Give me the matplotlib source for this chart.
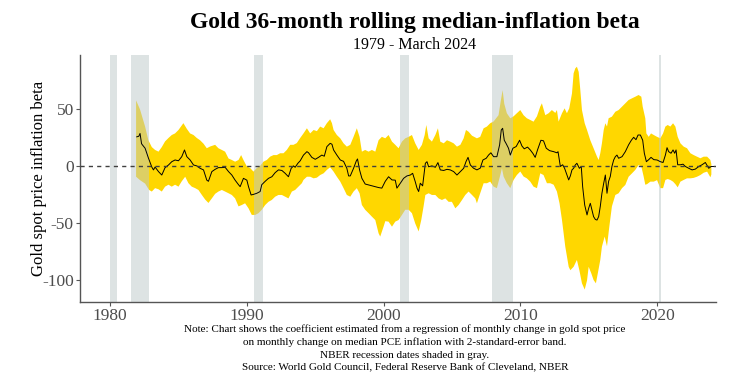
import matplotlib
matplotlib.use("Agg")
import matplotlib.pyplot as plt
import numpy as np

# rolling beta (year, value)
med_years = [1981.95, 1982.10, 1982.19, 1982.30, 1982.36, 1982.56, 1982.80, 1983.05, 1983.17, 1983.29,
             1983.54, 1983.78, 1984.02, 1984.27, 1984.51, 1984.75, 1985.00, 1985.24, 1985.44, 1985.61,
             1985.85, 1986.10, 1986.34, 1986.58, 1986.83, 1987.07, 1987.19, 1987.44, 1987.68, 1987.92,
             1988.17, 1988.41, 1988.66, 1988.90, 1989.14, 1989.39, 1989.51, 1989.75, 1990.00, 1990.12,
             1990.31, 1990.48, 1990.73, 1990.97, 1991.09, 1991.34, 1991.58, 1991.83, 1992.07, 1992.31,
             1992.56, 1992.80, 1993.04, 1993.24, 1993.41, 1993.53, 1993.73, 1993.90, 1994.14, 1994.39,
             1994.51, 1994.75, 1995.00, 1995.24, 1995.48, 1995.66, 1995.85, 1996.09, 1996.22, 1996.34,
             1996.58, 1996.83, 1997.07, 1997.31, 1997.44, 1997.56, 1997.80, 1998.00, 1998.09, 1998.24,
             1998.41, 1998.65, 1998.90, 1999.14, 1999.39, 1999.63, 1999.87, 2000.12, 2000.36, 2000.61,
             2000.85, 2000.97, 2001.22, 2001.46, 2001.70, 2001.95, 2002.12, 2002.31, 2002.44, 2002.56,
             2002.68, 2002.85, 2003.05, 2003.17, 2003.29, 2003.53, 2003.78, 2003.97, 2004.14, 2004.39,
             2004.63, 2004.87, 2005.12, 2005.36, 2005.61, 2005.85, 2006.02, 2006.17, 2006.34, 2006.57,
             2006.82, 2007.06, 2007.26, 2007.50, 2007.67, 2007.84, 2008.04, 2008.28, 2008.48, 2008.60,
             2008.70, 2008.82, 2008.96, 2009.13, 2009.26, 2009.45, 2009.69, 2009.94, 2010.11, 2010.28,
             2010.52, 2010.72, 2010.91, 2011.08, 2011.25, 2011.50, 2011.69, 2011.89, 2012.13, 2012.43,
             2012.67, 2012.75, 2012.92, 2013.09, 2013.23, 2013.40, 2013.53, 2013.65, 2013.77, 2013.89,
             2014.01, 2014.13, 2014.31, 2014.45, 2014.55, 2014.70, 2014.87, 2014.99, 2015.11, 2015.23,
             2015.35, 2015.48, 2015.60, 2015.72, 2015.84, 2015.96, 2016.09, 2016.21, 2016.33, 2016.45,
             2016.57, 2016.69, 2016.82, 2016.94, 2017.06, 2017.18, 2017.43, 2017.67, 2017.91, 2018.11,
             2018.28, 2018.45, 2018.60, 2018.77, 2018.94, 2019.06, 2019.21, 2019.38, 2019.55, 2019.75,
             2019.99, 2020.23, 2020.43, 2020.60, 2020.72, 2020.84, 2021.01, 2021.16, 2021.28, 2021.38,
             2021.50, 2021.70, 2021.89, 2022.06, 2022.31, 2022.55, 2022.79, 2023.04, 2023.28, 2023.52,
             2023.77, 2023.94, 2024.18]
med_vals = [26, 26.5, 29, 20, 19, 16, 7.5, -0.5, -3, -0.5,
            -4.5, -7.5, -1, 1.3, 4.2, 5.7, 5, 8.6, 14.5, 8.6,
            5.7, 1.3, 0.5, -1.6, -3, -12, -13, -4.5, -2.5, -1,
            -1, -0.7, -4.5, -7.5, -12, -16, -17.7, -10.4, -12, -17.7,
            -25, -24.5, -23.5, -22, -16, -13, -10.4, -9, -5.4, -3,
            -3.5, -6, -9, -1.6, 0.5, -0.7, 2.8, 5, 10, 13,
            12, 8, 6.3, 8, 10, 9, 17.4, 20.3, 19.5, 14.5,
            10, 5.7, 4.5, -1.6, -8.3, -8.3, -1.6, 4.8, 6.6, -3,
            -10.4, -15.4, -16.2, -17, -17.7, -18.5, -19, -13, -9, -11.8,
            -12, -19, -14.7, -10.4, -8.3, -7.5, -6, -13.3, -19, -22,
            -14.7, -17, 2.8, 4.2, -0.3, 0.5, -0.7, 3.4, -3, -3.5,
            -2.5, -3, -4.5, -7.5, -4.5, -1.6, 4.2, 8, 1.3, -1.5,
            -3, -1.5, 5.7, 7.2, 10, 12, 8.6, 8.6, 19, 32,
            33.5, 23, 20, 16, 10, 16, 17.5, 23, 18, 15.5,
            17, 14.5, 11.5, 8, 14.5, 23, 22.5, 16, 13.9, 13,
            12, 13, 0, 1.5, -1.6, -7.5, -11.8, -8.3, -3, -1.6,
            1.3, 2.8, -1.6, 0, -17.7, -33.8, -42.5, -36.7, -32.3, -38,
            -44, -46.5, -47, -44, -35, -23.5, -14.7, -7.5, -23.5, -13,
            -8.8, 0, 5.7, 8.6, 10, 7.2, 8.6, 13, 19, 23,
            25.6, 23.5, 27.6, 27.6, 23, 11.6, 4.2, 6, 8, 6,
            5.7, 4.2, 3.5, 10, 16.5, 13, 11.6, 14.5, 11.6, 14.5,
            1.5, 1.5, 2, 0, -1.6, -3, -2.3, 0, 1.5, 3.5,
            -1.6, 0, 0]

# upper edge of the 2-standard-error band
up_years = [1981.90, 1982.19, 1982.56, 1982.80, 1983.05, 1983.29, 1983.54, 1983.78, 1984.02, 1984.27,
            1984.51, 1984.75, 1985.00, 1985.24, 1985.36, 1985.61, 1985.85, 1986.10, 1986.34, 1986.58,
            1986.83, 1987.07, 1987.31, 1987.68, 1987.92, 1988.17, 1988.41, 1988.66, 1988.90, 1989.14,
            1989.39, 1989.58, 1989.75, 1990.00, 1990.24, 1990.48, 1990.73, 1990.97, 1991.21, 1991.46,
            1991.70, 1991.95, 1992.19, 1992.43, 1992.68, 1992.92, 1993.17, 1993.41, 1993.65, 1993.90,
            1994.14, 1994.39, 1994.63, 1994.88, 1995.12, 1995.36, 1995.61, 1995.85, 1996.09, 1996.22,
            1996.34, 1996.58, 1996.83, 1997.07, 1997.31, 1997.56, 1997.80, 1998.04, 1998.24, 1998.41,
            1998.65, 1998.90, 1999.14, 1999.39, 1999.63, 1999.87, 2000.12, 2000.36, 2000.61, 2000.85,
            2001.09, 2001.34, 2001.58, 2001.83, 2002.07, 2002.31, 2002.56, 2002.80, 2003.00, 2003.12,
            2003.29, 2003.53, 2003.78, 2003.97, 2004.14, 2004.39, 2004.63, 2004.87, 2005.12, 2005.36,
            2005.61, 2005.85, 2006.02, 2006.21, 2006.46, 2006.82, 2007.06, 2007.31, 2007.55, 2007.79,
            2008.04, 2008.40, 2008.57, 2008.70, 2008.82, 2009.01, 2009.26, 2009.50, 2009.74, 2009.99,
            2010.23, 2010.47, 2010.72, 2010.96, 2011.21, 2011.45, 2011.57, 2011.82, 2012.06, 2012.30,
            2012.55, 2012.67, 2012.79, 2013.04, 2013.23, 2013.40, 2013.57, 2013.77, 2013.89, 2014.01,
            2014.13, 2014.26, 2014.38, 2014.50, 2014.70, 2014.87, 2015.11, 2015.35, 2015.60, 2015.72,
            2015.84, 2015.96, 2016.09, 2016.21, 2016.33, 2016.45, 2016.69, 2016.94, 2017.18, 2017.43,
            2017.67, 2017.91, 2018.16, 2018.40, 2018.64, 2018.84, 2018.94, 2019.13, 2019.21, 2019.38,
            2019.55, 2019.75, 2019.99, 2020.23, 2020.43, 2020.60, 2020.77, 2020.96, 2021.16, 2021.33,
            2021.50, 2021.70, 2021.94, 2022.18, 2022.43, 2022.67, 2022.91, 2023.16, 2023.40, 2023.65,
            2023.89, 2023.96]
up_vals = [58, 50, 35, 23, 17, 14.5, 13, 17, 22, 25,
           27.6, 29, 32, 36, 38, 33, 29, 27.6, 25, 23,
           20, 16, 17.5, 19, 16, 14.5, 13, 7, 5.7, 4.2,
           5.7, 10, 5.7, 0, -1.3, -4.5, -1.3, 0.5, 4.2, 5.7,
           8.6, 10, 10, 11.6, 11.6, 14.5, 19, 19, 20.5, 25,
           29, 33.5, 29, 32, 31, 35, 33.5, 38, 41.4, 38,
           32, 27.6, 24.7, 20.3, 17.4, 19, 26, 33.5, 26, 13,
           14.5, 13, 14.5, 13, 23, 26, 24.7, 27.6, 21.8, 19,
           16, 21.8, 24.7, 26, 27.6, 20.3, 14.5, 19, 27.6, 36.4,
           24.7, 21.8, 27.6, 33.5, 21.8, 20.3, 23, 21.8, 20.3, 17.4,
           19, 24.7, 32, 30.5, 27, 24.7, 26, 33.5, 35, 37.9,
           39.5, 45, 58, 67, 55, 46.7, 42.3, 44, 46.7, 49.5,
           45, 42.3, 40.8, 39.3, 44, 52.5, 55.4, 45, 46.7, 49.5,
           47, 49.5, 39.3, 46.7, 51, 46.7, 51, 64, 81.7, 86,
           87.5, 83, 67, 49.5, 37.9, 32, 23, 16, 8.6, 5.7,
           11.6, 20.3, 32, 37.9, 35, 42.3, 43.7, 48, 49.5, 52.5,
           55.4, 58.3, 59.8, 61.2, 62.7, 61.2, 52.5, 42.3, 29, 26,
           29, 27.6, 26, 24.7, 29, 35, 36.4, 35, 37.9, 35,
           26, 20.3, 17.4, 16, 11.6, 10, 8.6, 7.2, 8.6, 8.6,
           5.7, 2]

# lower edge of the band
lo_years = [1981.90, 1982.19, 1982.56, 1982.85, 1983.05, 1983.29, 1983.54, 1983.78, 1984.02, 1984.27,
            1984.51, 1984.75, 1985.00, 1985.24, 1985.49, 1985.73, 1985.97, 1986.22, 1986.46, 1986.71,
            1986.95, 1987.19, 1987.44, 1987.68, 1987.92, 1988.17, 1988.41, 1988.66, 1988.90, 1989.14,
            1989.39, 1989.63, 1989.87, 1990.12, 1990.36, 1990.61, 1990.85, 1991.09, 1991.34, 1991.58,
            1991.82, 1992.07, 1992.31, 1992.56, 1992.80, 1993.04, 1993.29, 1993.53, 1993.77, 1994.02,
            1994.14, 1994.39, 1994.63, 1994.88, 1995.12, 1995.36, 1995.61, 1995.85, 1996.09, 1996.34,
            1996.58, 1996.83, 1997.07, 1997.31, 1997.56, 1997.80, 1998.04, 1998.24, 1998.41, 1998.65,
            1998.90, 1999.14, 1999.39, 1999.63, 1999.75, 2000.00, 2000.12, 2000.36, 2000.61, 2000.85,
            2001.09, 2001.34, 2001.58, 2001.83, 2002.07, 2002.31, 2002.56, 2002.75, 2002.92, 2003.05,
            2003.29, 2003.53, 2003.78, 2004.02, 2004.26, 2004.51, 2004.75, 2004.99, 2005.24, 2005.48,
            2005.73, 2005.97, 2006.21, 2006.46, 2006.70, 2006.82, 2007.06, 2007.31, 2007.55, 2007.79,
            2008.04, 2008.28, 2008.53, 2008.65, 2008.77, 2009.01, 2009.26, 2009.50, 2009.74, 2009.99,
            2010.23, 2010.47, 2010.72, 2010.96, 2011.21, 2011.45, 2011.69, 2011.94, 2012.18, 2012.43,
            2012.67, 2012.86, 2013.04, 2013.28, 2013.53, 2013.65, 2013.89, 2014.13, 2014.31, 2014.50,
            2014.70, 2014.87, 2014.99, 2015.18, 2015.35, 2015.52, 2015.67, 2015.84, 2015.96, 2016.16,
            2016.33, 2016.50, 2016.69, 2016.94, 2017.18, 2017.43, 2017.67, 2017.91, 2018.16, 2018.40,
            2018.64, 2018.84, 2019.01, 2019.13, 2019.26, 2019.50, 2019.75, 2019.99, 2020.23, 2020.43,
            2020.60, 2020.77, 2020.96, 2021.16, 2021.33, 2021.50, 2021.70, 2021.94, 2022.18, 2022.43,
            2022.67, 2022.91, 2023.16, 2023.40, 2023.65, 2023.89, 2023.96]
lo_vals = [-9, -12, -15, -20.6, -22, -19, -20, -22, -17.7, -16,
           -17.7, -16, -17.7, -13, -9, -14.7, -17.7, -19, -20.6, -25,
           -29, -32, -28, -24, -22, -20.6, -22, -23.5, -25, -28,
           -35, -33.8, -32.3, -36.7, -42.5, -42.5, -41, -38, -33.8, -31,
           -29.4, -26.5, -25, -25, -26.5, -28, -22, -20.6, -17.7, -14.7,
           -11.8, -9, -9, -10.4, -9.8, -7.5, -6, -3, -0.7, -4.5,
           -9, -13.3, -19, -25, -26.5, -22, -19, -23.5, -33.8, -38,
           -41, -44, -47, -58.6, -61.5, -52.6, -48, -48.4, -52.8, -48.4,
           -47, -42.5, -38, -38, -41, -50, -57, -47, -35, -25,
           -23.5, -25, -25, -28, -29.4, -28, -31, -31, -36.7, -33.8,
           -29.4, -25, -22, -25, -28, -32.3, -23.5, -14.7, -14.7, -13.3,
           -17.7, -19, -7.5, -1.6, -8.8, -14.7, -19, -11.8, -7.5, -4.4,
           -8.8, -10.4, -13.3, -17.7, -19, -6, -7.5, -14.7, -14.7, -16,
           -22, -32.3, -47, -70.3, -88, -91, -88, -82, -91, -102.5,
           -108, -100, -88, -93.7, -99.6, -102.5, -93, -82, -70.3, -61.5,
           -70, -52.8, -35, -25, -23.5, -19, -16.2, -9, -6, -3,
           1.3, 0, -8.8, -16, -15.5, -13.3, -13.3, -12, -19, -19,
           -11.8, -11, -11.8, -13.3, -15.5, -18.3, -13.3, -11.8, -10.4, -10.4,
           -10, -9, -7.5, -5.5, -4.5, -9.5, -7]

# NBER recessions
rec_start = [1980.0, 1981.5, 1990.5, 2001.17, 2007.92, 2020.1]
rec_end = [1980.5, 1982.87, 1991.17, 2001.83, 2009.45, 2020.28]

x_ticks = [1980, 1990, 2000, 2010, 2020]
y_ticks = [-100, -50, 0, 50]

caption = ["Note: Chart shows the coefficient estimated from a regression of monthly change in gold spot price",
           "on monthly change on median PCE inflation with 2-standard-error band.",
           "NBER recession dates shaded in gray.",
           "Source: World Gold Council, Federal Reserve Bank of Cleveland, NBER"]

plt.rcParams['font.family'] = ['Liberation Serif', 'DejaVu Serif']
plt.rcParams['axes.unicode_minus'] = False

fig = plt.figure(figsize=(7.38, 3.9), dpi=100)
ax = fig.add_axes([80 / 738, 1 - 302 / 390, (716 - 80) / 738, (302 - 55) / 390])

# band as one polygon: upper edge forward, lower edge back
ax.fill(np.concatenate([up_years, lo_years[::-1]]),
        np.concatenate([up_vals, lo_vals[::-1]]),
        color='#FFD700', lw=0, zorder=1)
for s, e in zip(rec_start, rec_end):
    ax.axvspan(s, e, color='#bdc9c9', alpha=0.5, lw=0, zorder=2)
ax.plot(med_years, med_vals, color='black', lw=0.7, zorder=3)
ax.axhline(0, color='#404040', lw=1, ls=(0, (3, 3)), zorder=4)

ax.set_xlim(1977.8, 2024.3)
ax.set_ylim(-118.9, 97.8)
ax.set_xticks(x_ticks)
ax.set_yticks(y_ticks)
for side in ['top', 'right']:
    ax.spines[side].set_visible(False)
for side in ['left', 'bottom']:
    ax.spines[side].set_color('#555555')
    ax.spines[side].set_linewidth(1)
ax.tick_params(length=3, pad=1.5, color='#555555', labelsize=12.5, labelcolor='#4d4d4d')

ax.set_ylabel('Gold spot price inflation beta', fontsize=12)
ax.yaxis.set_label_coords(-0.052, 0.5)

fig.text(415 / 738, 1 - 28 / 390, 'Gold 36-month rolling median-inflation beta',
         ha='center', va='baseline', fontsize=17, fontweight='bold')
fig.text(415 / 738, 1 - 49 / 390, '1979 - March 2024', ha='center', va='baseline', fontsize=11.5)

for i, line in enumerate(caption):
    fig.text(405 / 738, 1 - (329 + 13 * i) / 390, line, ha='center', va='center', fontsize=8)

fig.savefig('out.png', dpi=100)
